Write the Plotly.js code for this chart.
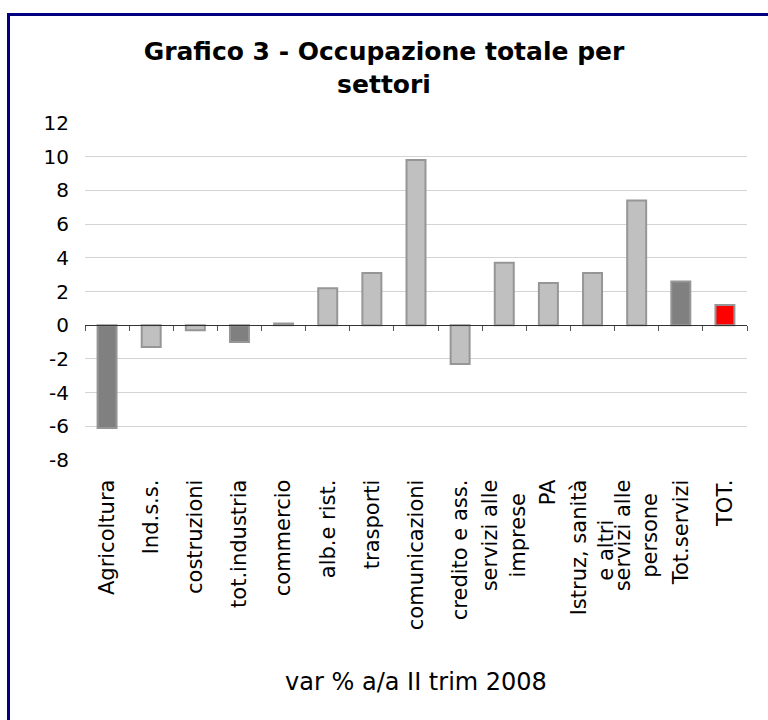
<!DOCTYPE html>
<html>
<head>
<meta charset="utf-8">
<script src="https://cdn.plot.ly/plotly-3.0.1.min.js"></script>
<style>
  html, body { margin: 0; padding: 0; background: #ffffff; }
  #chart { position: absolute; left: 0; top: 0; width: 768px; height: 720px; }
  #frame { position: absolute; left: 7px; top: 13px; width: 900px; height: 900px;
           border-left: 3px solid #000080; border-top: 3px solid #000080;
           pointer-events: none; box-sizing: border-box; }
</style>
</head>
<body>
<div id="chart"></div>
<div id="frame"></div>
<script>
// ---- data ----
const categories = [
  "Agricoltura", "Ind.s.s.", "costruzioni", "tot.industria", "commercio",
  "alb.e rist.", "trasporti", "comunicazioni", "credito e ass.",
  "servizi alle<br>imprese", "PA", "Istruz, sanità<br>e altri",
  "servizi alle<br>persone", "Tot.servizi", "TOT."
];
const values = [-6.1, -1.3, -0.3, -1.0, 0.1, 2.2, 3.1, 9.8, -2.3, 3.7, 2.5, 3.1, 7.4, 2.6, 1.2];
const yTickValues = [-8, -6, -4, -2, 0, 2, 4, 6, 8, 10, 12];

// ---- style ----
const LIGHT = "#C0C0C0", DARK = "#808080", RED = "#FF0000";
const barColors = [DARK, LIGHT, LIGHT, DARK, LIGHT, LIGHT, LIGHT, LIGHT, LIGHT, LIGHT, LIGHT, LIGHT, LIGHT, DARK, RED];

const font = "DejaVu Sans, Verdana, sans-serif";
const TICK_SIZE = 21;

// center the lines of multi-line rotated labels (Plotly aligns them to the end);
// a zero-width space after the padding keeps it from being trimmed
const ctx = document.createElement("canvas").getContext("2d");
ctx.font = TICK_SIZE + "px 'DejaVu Sans'";
const nbspW = ctx.measureText("\u00A0").width || TICK_SIZE * 0.318;
function centeredLabel(label) {
  const lines = label.split("<br>");
  if (lines.length < 2) return label;
  const widths = lines.map(l => ctx.measureText(l).width);
  const maxW = Math.max(...widths);
  return lines.map((l, i) => {
    const n = Math.round((maxW - widths[i]) / 2 / nbspW);
    return n > 0 ? l + "\u00A0".repeat(n) + "\u200B" : l;
  }).join("<br>");
}
const tickLabels = categories.map(centeredLabel);

const trace = {
  type: "bar",
  x: categories,
  y: values,
  width: 0.43,
  marker: { color: barColors, line: { color: "#969696", width: 2 } },
  hoverinfo: "x+y"
};

const layout = {
  width: 768, height: 720,
  paper_bgcolor: "#ffffff", plot_bgcolor: "#ffffff",
  margin: { l: 85, r: 21, t: 123, b: 260 },
  showlegend: false,
  font: { family: font, color: "#000000" },
  title: {
    text: "Grafico 3 - Occupazione totale per<br>settori",
    font: { family: font, size: 25, weight: "bold", color: "#000000" },
    xref: "container", x: 0.5, xanchor: "center",
    yref: "container", y: 0.916, yanchor: "top"
  },
  xaxis: {
    type: "category",
    anchor: "free", position: 0.4,
    showline: true, linecolor: "#333333", linewidth: 1,
    ticks: "outside", tickson: "boundaries", ticklen: 5, tickwidth: 1, tickcolor: "#555555",
    tickangle: -90,
    tickvals: categories, ticktext: tickLabels,
    tickfont: { family: font, size: TICK_SIZE, color: "#000000" },
    ticklabelstandoff: 145,
    showgrid: false, zeroline: false,
    title: { text: "var % a/a II trim 2008", font: { family: font, size: 24, color: "#000000" }, standoff: 44 },
    automargin: false
  },
  yaxis: {
    range: [-8, 12],
    tickvals: yTickValues,
    ticktext: yTickValues.map(String),
    showgrid: true, gridcolor: "#d4d4d4", gridwidth: 1,
    zeroline: false, showline: false,
    ticks: "", ticklabelstandoff: 15,
    tickfont: { family: font, size: 20, color: "#000000" },
    automargin: false
  },
  bargap: 0.5
};

Plotly.newPlot("chart", [trace], layout, { staticPlot: true, displayModeBar: false });
</script>
</body>
</html>
